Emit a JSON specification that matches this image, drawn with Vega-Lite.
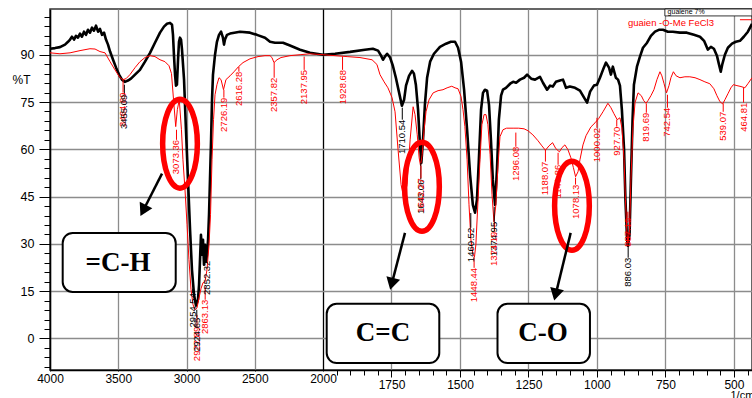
{
  "$schema": "https://vega.github.io/schema/vega-lite/v6.json",
  "width": 702,
  "height": 361,
  "autosize": {"type": "none"},
  "padding": {"left": 50, "top": 9, "right": 0, "bottom": 28},
  "background": "white",
  "config": {
    "view": {"stroke": "#333333", "strokeWidth": 1.5},
    "axis": {"labelFont": "Liberation Sans", "titleFont": "Liberation Sans", "labelColor": "#000", "titleColor": "#000", "domainColor": "#000", "domainWidth": 1.5, "tickColor": "#000", "tickWidth": 1, "labelFontSize": 12.5, "titleFontSize": 12.5, "titleFontWeight": "normal"}
  },
  "datasets": {
    "black": [
      {"w":4000,"t":91.9},{"w":3963,"t":92.1},{"w":3927,"t":92.4},{"w":3890,"t":93.2},{"w":3868,"t":94.1},{"w":3853,"t":94.8},{"w":3839,"t":95.7},{"w":3824,"t":94.8},{"w":3810,"t":96.0},{"w":3795,"t":95.4},{"w":3780,"t":96.7},{"w":3766,"t":95.7},{"w":3751,"t":97.3},{"w":3736,"t":96.3},{"w":3722,"t":97.9},{"w":3707,"t":97.0},{"w":3692,"t":98.6},{"w":3678,"t":97.6},{"w":3663,"t":99.2},{"w":3648,"t":97.3},{"w":3634,"t":98.2},{"w":3619,"t":96.3},{"w":3604,"t":97.0},{"w":3590,"t":94.8},{"w":3575,"t":93.2},{"w":3560,"t":91.0},{"w":3538,"t":88.4},{"w":3516,"t":85.9},{"w":3494,"t":83.7},{"w":3473,"t":82.1},{"w":3451,"t":81.4},{"w":3429,"t":81.8},{"w":3407,"t":82.4},{"w":3377,"t":83.7},{"w":3341,"t":85.2},{"w":3304,"t":87.8},{"w":3267,"t":90.6},{"w":3231,"t":93.8},{"w":3194,"t":97.0},{"w":3165,"t":98.9},{"w":3143,"t":99.8},{"w":3121,"t":100.1},{"w":3106,"t":99.5},{"w":3099,"t":96.3},{"w":3092,"t":90.0},{"w":3084,"t":83.7},{"w":3077,"t":80.2},{"w":3070,"t":80.5},{"w":3062,"t":88.4},{"w":3055,"t":94.1},{"w":3048,"t":95.4},{"w":3040,"t":94.8},{"w":3033,"t":91.6},{"w":3018,"t":82.1},{"w":3004,"t":66.2},{"w":2989,"t":50.3},{"w":2974,"t":34.5},{"w":2960,"t":21.8},{"w":2945,"t":13.9},{"w":2930,"t":10.4},{"w":2916,"t":12.3},{"w":2908,"t":17.0},{"w":2901,"t":25.0},{"w":2894,"t":32.9},{"w":2886,"t":26.6},{"w":2879,"t":31.3},{"w":2872,"t":23.4},{"w":2864,"t":29.7},{"w":2857,"t":24.3},{"w":2850,"t":26.6},{"w":2842,"t":31.3},{"w":2835,"t":39.3},{"w":2828,"t":50.3},{"w":2820,"t":63.0},{"w":2813,"t":75.7},{"w":2806,"t":83.7},{"w":2791,"t":90.0},{"w":2777,"t":94.1},{"w":2762,"t":96.3},{"w":2747,"t":97.3},{"w":2733,"t":95.4},{"w":2725,"t":93.2},{"w":2718,"t":94.8},{"w":2703,"t":96.3},{"w":2681,"t":96.7},{"w":2608,"t":97.3},{"w":2535,"t":97.0},{"w":2484,"t":96.3},{"w":2425,"t":95.4},{"w":2388,"t":94.1},{"w":2352,"t":93.8},{"w":2293,"t":93.8},{"w":2242,"t":92.9},{"w":2168,"t":91.6},{"w":2095,"t":90.6},{"w":2000,"t":90.0},{"w":1956,"t":90.3},{"w":1901,"t":90.9},{"w":1847,"t":91.6},{"w":1818,"t":91.9},{"w":1799,"t":91.3},{"w":1788,"t":89.7},{"w":1781,"t":88.4},{"w":1774,"t":89.4},{"w":1766,"t":90.3},{"w":1755,"t":89.1},{"w":1745,"t":86.5},{"w":1734,"t":82.7},{"w":1723,"t":78.3},{"w":1712,"t":73.8},{"w":1704,"t":75.7},{"w":1697,"t":80.2},{"w":1686,"t":83.3},{"w":1675,"t":84.9},{"w":1668,"t":84.0},{"w":1661,"t":80.5},{"w":1653,"t":72.6},{"w":1646,"t":61.4},{"w":1641,"t":55.7},{"w":1635,"t":63.0},{"w":1628,"t":74.2},{"w":1620,"t":82.7},{"w":1609,"t":87.8},{"w":1595,"t":90.3},{"w":1573,"t":92.5},{"w":1551,"t":93.5},{"w":1533,"t":94.1},{"w":1518,"t":94.1},{"w":1507,"t":92.2},{"w":1496,"t":87.8},{"w":1485,"t":78.9},{"w":1474,"t":66.2},{"w":1463,"t":51.9},{"w":1453,"t":42.4},{"w":1445,"t":39.9},{"w":1438,"t":44.0},{"w":1431,"t":56.7},{"w":1423,"t":72.6},{"w":1416,"t":77.9},{"w":1409,"t":78.9},{"w":1401,"t":78.6},{"w":1394,"t":74.1},{"w":1387,"t":63.0},{"w":1380,"t":50.3},{"w":1372,"t":42.4},{"w":1365,"t":53.5},{"w":1358,"t":69.4},{"w":1350,"t":77.0},{"w":1343,"t":78.9},{"w":1332,"t":79.5},{"w":1317,"t":80.8},{"w":1306,"t":81.4},{"w":1295,"t":81.1},{"w":1281,"t":82.1},{"w":1266,"t":82.7},{"w":1255,"t":83.7},{"w":1240,"t":82.4},{"w":1226,"t":82.1},{"w":1208,"t":83.0},{"w":1197,"t":81.1},{"w":1182,"t":78.9},{"w":1171,"t":80.2},{"w":1161,"t":79.9},{"w":1150,"t":81.4},{"w":1135,"t":81.8},{"w":1124,"t":82.1},{"w":1113,"t":79.5},{"w":1099,"t":79.9},{"w":1080,"t":79.5},{"w":1062,"t":78.6},{"w":1047,"t":76.4},{"w":1036,"t":74.8},{"w":1025,"t":78.3},{"w":1011,"t":80.2},{"w":1000,"t":80.5},{"w":989,"t":82.7},{"w":978,"t":85.2},{"w":967,"t":87.5},{"w":956,"t":85.9},{"w":949,"t":83.7},{"w":942,"t":86.2},{"w":931,"t":82.7},{"w":923,"t":82.1},{"w":916,"t":80.2},{"w":909,"t":72.6},{"w":901,"t":59.9},{"w":896,"t":44.0},{"w":890,"t":31.3},{"w":887,"t":29.4},{"w":881,"t":32.9},{"w":876,"t":50.3},{"w":870,"t":69.4},{"w":865,"t":80.5},{"w":854,"t":86.2},{"w":843,"t":89.4},{"w":832,"t":92.2},{"w":817,"t":93.8},{"w":803,"t":96.0},{"w":788,"t":97.3},{"w":774,"t":97.9},{"w":759,"t":97.9},{"w":741,"t":97.3},{"w":723,"t":97.3},{"w":697,"t":97.0},{"w":672,"t":97.0},{"w":646,"t":96.3},{"w":624,"t":95.7},{"w":609,"t":94.4},{"w":595,"t":91.6},{"w":584,"t":92.5},{"w":573,"t":91.9},{"w":562,"t":89.7},{"w":555,"t":87.1},{"w":548,"t":84.6},{"w":542,"t":87.1},{"w":533,"t":90.0},{"w":522,"t":92.2},{"w":507,"t":93.5},{"w":493,"t":94.1},{"w":478,"t":94.4},{"w":464,"t":95.7},{"w":449,"t":97.3},{"w":434,"t":99.8}
    ],
    "red": [
      {"w":4000,"t":90.6},{"w":3927,"t":90.3},{"w":3853,"t":90.6},{"w":3780,"t":91.3},{"w":3707,"t":91.9},{"w":3670,"t":91.8},{"w":3634,"t":91.0},{"w":3597,"t":90.6},{"w":3560,"t":87.8},{"w":3524,"t":85.2},{"w":3487,"t":82.7},{"w":3465,"t":82.1},{"w":3443,"t":82.4},{"w":3414,"t":83.7},{"w":3377,"t":85.9},{"w":3341,"t":87.8},{"w":3304,"t":89.1},{"w":3267,"t":89.7},{"w":3231,"t":89.4},{"w":3194,"t":88.4},{"w":3158,"t":87.8},{"w":3128,"t":86.5},{"w":3110,"t":84.0},{"w":3095,"t":75.7},{"w":3079,"t":67.2},{"w":3067,"t":72.6},{"w":3053,"t":75.7},{"w":3037,"t":66.2},{"w":3026,"t":56.7},{"w":3011,"t":47.2},{"w":2996,"t":36.1},{"w":2982,"t":25.0},{"w":2967,"t":15.5},{"w":2952,"t":10.7},{"w":2938,"t":9.1},{"w":2923,"t":9.7},{"w":2908,"t":12.9},{"w":2894,"t":15.8},{"w":2879,"t":17.7},{"w":2864,"t":18.0},{"w":2850,"t":21.8},{"w":2835,"t":29.7},{"w":2824,"t":39.3},{"w":2813,"t":56.7},{"w":2802,"t":69.4},{"w":2791,"t":77.3},{"w":2777,"t":80.5},{"w":2762,"t":82.7},{"w":2747,"t":82.1},{"w":2729,"t":78.9},{"w":2711,"t":82.1},{"w":2681,"t":83.3},{"w":2652,"t":84.6},{"w":2619,"t":86.2},{"w":2586,"t":87.5},{"w":2535,"t":88.7},{"w":2476,"t":89.4},{"w":2425,"t":89.7},{"w":2388,"t":89.7},{"w":2374,"t":89.1},{"w":2359,"t":87.5},{"w":2337,"t":88.4},{"w":2308,"t":89.1},{"w":2242,"t":89.7},{"w":2168,"t":90.0},{"w":2095,"t":90.3},{"w":2000,"t":90.0},{"w":1956,"t":89.7},{"w":1912,"t":89.4},{"w":1865,"t":89.1},{"w":1821,"t":88.4},{"w":1803,"t":86.9},{"w":1792,"t":83.7},{"w":1777,"t":81.4},{"w":1763,"t":79.5},{"w":1748,"t":76.4},{"w":1737,"t":71.9},{"w":1726,"t":59.9},{"w":1715,"t":48.8},{"w":1704,"t":44.0},{"w":1693,"t":48.8},{"w":1682,"t":63.0},{"w":1671,"t":73.5},{"w":1664,"t":71.0},{"w":1656,"t":64.6},{"w":1649,"t":57.3},{"w":1644,"t":54.8},{"w":1638,"t":58.3},{"w":1631,"t":66.2},{"w":1624,"t":71.9},{"w":1613,"t":75.7},{"w":1598,"t":77.9},{"w":1580,"t":78.6},{"w":1562,"t":78.9},{"w":1547,"t":79.5},{"w":1530,"t":80.0},{"w":1518,"t":79.5},{"w":1507,"t":79.2},{"w":1496,"t":76.7},{"w":1489,"t":72.6},{"w":1482,"t":67.2},{"w":1474,"t":56.7},{"w":1467,"t":42.4},{"w":1460,"t":31.3},{"w":1453,"t":26.9},{"w":1447,"t":25.9},{"w":1442,"t":29.7},{"w":1434,"t":44.0},{"w":1427,"t":56.7},{"w":1420,"t":67.8},{"w":1412,"t":71.0},{"w":1405,"t":71.0},{"w":1398,"t":67.8},{"w":1390,"t":58.3},{"w":1383,"t":45.6},{"w":1376,"t":37.0},{"w":1369,"t":42.4},{"w":1361,"t":55.1},{"w":1354,"t":64.0},{"w":1343,"t":66.2},{"w":1330,"t":66.7},{"w":1306,"t":66.7},{"w":1286,"t":66.7},{"w":1266,"t":66.5},{"w":1252,"t":65.9},{"w":1234,"t":64.6},{"w":1215,"t":62.7},{"w":1201,"t":61.1},{"w":1188,"t":59.7},{"w":1175,"t":61.1},{"w":1162,"t":62.1},{"w":1150,"t":60.2},{"w":1137,"t":59.2},{"w":1128,"t":60.5},{"w":1117,"t":61.4},{"w":1106,"t":59.9},{"w":1095,"t":57.3},{"w":1086,"t":54.2},{"w":1078,"t":51.3},{"w":1069,"t":52.9},{"w":1062,"t":56.7},{"w":1051,"t":61.4},{"w":1040,"t":64.3},{"w":1022,"t":67.1},{"w":1007,"t":68.4},{"w":994,"t":69.7},{"w":978,"t":71.9},{"w":960,"t":74.6},{"w":949,"t":73.2},{"w":938,"t":71.3},{"w":926,"t":69.4},{"w":916,"t":70.0},{"w":909,"t":66.8},{"w":901,"t":56.7},{"w":896,"t":44.0},{"w":890,"t":32.9},{"w":887,"t":30.4},{"w":881,"t":34.5},{"w":876,"t":50.3},{"w":869,"t":66.2},{"w":861,"t":74.8},{"w":850,"t":77.9},{"w":838,"t":77.0},{"w":829,"t":75.4},{"w":821,"t":74.6},{"w":814,"t":75.4},{"w":803,"t":77.0},{"w":792,"t":78.9},{"w":781,"t":82.1},{"w":770,"t":84.6},{"w":763,"t":83.3},{"w":755,"t":80.8},{"w":746,"t":77.9},{"w":737,"t":80.2},{"w":730,"t":82.7},{"w":721,"t":84.6},{"w":711,"t":83.3},{"w":697,"t":82.7},{"w":679,"t":83.0},{"w":661,"t":83.0},{"w":642,"t":82.7},{"w":624,"t":82.1},{"w":606,"t":81.4},{"w":588,"t":80.8},{"w":573,"t":79.2},{"w":562,"t":77.0},{"w":551,"t":75.1},{"w":541,"t":74.4},{"w":533,"t":75.7},{"w":522,"t":77.6},{"w":511,"t":79.5},{"w":502,"t":80.5},{"w":489,"t":80.2},{"w":474,"t":79.9},{"w":460,"t":79.5},{"w":449,"t":80.8},{"w":434,"t":82.7}
    ],
    "labels": [
      {"s":"B","w":3464.69,"t1":82.1,"t2":78.0,"label":"3464.69"},
      {"s":"A","w":3455.09,"t1":80.5,"t2":77.3,"label":"3455.09"},
      {"s":"B","w":3073.36,"t1":66.2,"t2":63.0,"label":"3073.36"},
      {"s":"B","w":2726.19,"t1":78.9,"t2":76.4,"label":"2726.19"},
      {"s":"B","w":2616.28,"t1":86.2,"t2":84.6,"label":"2616.28"},
      {"s":"B","w":2357.82,"t1":87.5,"t2":82.7,"label":"2357.82"},
      {"s":"B","w":2137.95,"t1":89.4,"t2":85.2,"label":"2137.95"},
      {"s":"B","w":1928.68,"t1":89.4,"t2":85.2,"label":"1928.68"},
      {"s":"A","w":1710.54,"t1":73.2,"t2":69.4,"label":"1710.54"},
      {"s":"A","w":1643.06,"t1":55.7,"t2":50.4,"label":"1643.06"},
      {"s":"B","w":1642.27,"t1":54.8,"t2":50.8,"label":"1642.27"},
      {"s":"A","w":1460.52,"t1":39.8,"t2":35.1,"label":"1460.52"},
      {"s":"B","w":1448.44,"t1":25.9,"t2":22.4,"label":"1448.44"},
      {"s":"A","w":1374.95,"t1":41.8,"t2":37.0,"label":"1374.95"},
      {"s":"B","w":1374.19,"t1":37.0,"t2":33.9,"label":"1374.19"},
      {"s":"B","w":1296.08,"t1":65.3,"t2":60.8,"label":"1296.08"},
      {"s":"B","w":1188.07,"t1":59.9,"t2":56.1,"label":"1188.07"},
      {"s":"B","w":1141.86,"t1":58.9,"t2":55.1,"label":"1141.86"},
      {"s":"B","w":1078.13,"t1":51.0,"t2":48.8,"label":"1078.13"},
      {"s":"B","w":1000.02,"t1":70.0,"t2":66.8,"label":"1000.02"},
      {"s":"B","w":927.70,"t1":69.4,"t2":67.2,"label":"927.70"},
      {"s":"B","w":887.19,"t1":40.2,"t2":38.3,"label":"887.19"},
      {"s":"A","w":886.03,"t1":29.4,"t2":25.6,"label":"886.03"},
      {"s":"B","w":819.69,"t1":74.5,"t2":71.6,"label":"819.69"},
      {"s":"B","w":742.54,"t1":77.3,"t2":73.2,"label":"742.54"},
      {"s":"B","w":539.07,"t1":74.5,"t2":71.9,"label":"539.07"},
      {"s":"B","w":464.81,"t1":79.5,"t2":74.8,"label":"464.81"},
      {"s":"A","w":2954.54,"t1":15.8,"t2":14.4,"label":"2954.54"},
      {"s":"B","w":2922.89,"t1":7.5,"t2":3.7,"label":"2922.89"},
      {"s":"A","w":2924.65,"t1":9.1,"t2":6.6,"label":"2924.65"},
      {"s":"A","w":2852.32,"t1":26.5,"t2":24.7,"label":"2852.32"},
      {"s":"B","w":2863.13,"t1":16.4,"t2":12.3,"label":"2863.13"}
    ],
    "ellipses": [
      {"w":3047.6,"t":61.8},
      {"w":1638.7,"t":48.1},
      {"w":1091.2,"t":42.1}
    ],
    "arrows": [
      {"id":"a1","w1":3179.5,"t1":52.3,"w2":3317,"t2":40.6},
      {"id":"a2","w1":1700.7,"t1":33.5,"w2":1749.1,"t2":17.3},
      {"id":"a3","w1":1095.9,"t1":33.5,"w2":1150.8,"t2":13.9}
    ],
    "boxes": [
      {"label":"=C-H","w1":3907,"w2":3079,"t1":33.46,"t2":14.74,"tw":3502,"tt":24.0},
      {"label":"C=C","w1":1986.5,"w2":1575.5,"t1":11.0,"t2":-7.8,"tw":1781,"tt":1.6},
      {"label":"C-O","w1":1363,"w2":1025.5,"t1":11.0,"t2":-7.8,"tw":1197,"tt":1.6}
    ],
    "legend": [
      {"w1":752,"w2":434,"t1":104.5,"t2":102.3,"tw":742,"tt":103.4,"label":"guaiene 7%","lw1":478,"lw2":434,"lt":101.1,"rw":887,"rt":100.2,"rlabel":"guaien -O-Me FeCl3"}
    ]
  },
  "layer": [
    {
      "data": {"name": "black"},
      "mark": {"type": "line", "color": "#000000", "strokeWidth": 2.6, "strokeJoin": "round"},
      "encoding": {
        "x": {
          "field": "w", "type": "quantitative",
          "scale": {"type": "linear", "domain": [4000, 2000, 434], "range": [0, 273, 702], "nice": false, "zero": false},
          "axis": {
            "title": "1/cm", "titleX": 680, "titleY": 25, "titleAlign": "left", "titleBaseline": "middle", "titleFontSize": 11,
            "format": "d",
            "tickCount": 500,
            "labelFontSize": 12,
            "values": [4000,3900,3800,3700,3600,3500,3400,3300,3200,3100,3000,2900,2800,2700,2600,2500,2400,2300,2200,2100,2000,1950,1900,1850,1800,1750,1700,1650,1600,1550,1500,1450,1400,1350,1300,1250,1200,1150,1100,1050,1000,950,900,850,800,750,700,650,600,550,500,450],
            "labelExpr": "(datum.value >= 2000 ? datum.value % 500 === 0 : datum.value % 250 === 0) ? datum.label : ''",
            "labelOverlap": false, "labelFlush": false, "labelPadding": 2,
            "tickSize": {"condition": {"test": "datum.value >= 2000 ? datum.value % 500 === 0 : datum.value % 250 === 0", "value": 7}, "value": 5},
            "grid": true,
            "gridWidth": 1.3,
            "gridColor": {"condition": {"test": "datum.value === 2000", "value": "#000000"}, "value": "#8c8c8c"},
            "gridOpacity": {"condition": {"test": "datum.value >= 2000 ? datum.value % 500 === 0 : datum.value % 250 === 0", "value": 1}, "value": 0}
          }
        },
        "y": {
          "field": "t", "type": "quantitative",
          "scale": {"domain": [-10, 104.5], "nice": false, "zero": false},
          "axis": {
            "title": "%T", "titleAngle": 0, "titleX": -38, "titleY": 70, "titleAlign": "left", "titleBaseline": "middle", "titleFontSize": 12,
            "format": "d",
            "tickCount": 500,
            "values": [-9,-6,-3,0,3,6,9,12,15,18,21,24,27,30,33,36,39,42,45,48,51,54,57,60,63,66,69,72,75,78,81,84,87,90,93,96,99,102],
            "labelExpr": "datum.value % 15 === 0 ? datum.label : ''",
            "labelOverlap": false, "labelFlush": false, "labelPadding": 5,
            "tickSize": {"condition": {"test": "datum.value % 15 === 0", "value": 11}, "value": 6},
            "grid": true,
            "gridWidth": 1.3,
            "gridColor": "#8c8c8c",
            "gridOpacity": {"condition": {"test": "datum.value % 15 === 0", "value": 1}, "value": 0}
          }
        }
      }
    },
    {
      "data": {"name": "red"},
      "mark": {"type": "line", "color": "#ff0000", "strokeWidth": 1},
      "encoding": {
        "x": {"field": "w", "type": "quantitative"},
        "y": {"field": "t", "type": "quantitative"}
      }
    },
    {
      "data": {"name": "labels"},
      "mark": {"type": "rule", "strokeWidth": 1},
      "encoding": {
        "x": {"field": "w", "type": "quantitative"},
        "y": {"field": "t1", "type": "quantitative"},
        "y2": {"field": "t2"},
        "color": {"field": "s", "type": "nominal", "scale": {"domain": ["A", "B"], "range": ["#000000", "#ff0000"]}, "legend": null}
      }
    },
    {
      "data": {"name": "labels"},
      "mark": {"type": "text", "angle": 270, "align": "right", "baseline": "middle", "font": "Liberation Sans", "fontSize": 9.5},
      "encoding": {
        "x": {"field": "w", "type": "quantitative"},
        "y": {"field": "t2", "type": "quantitative"},
        "text": {"field": "label"},
        "color": {"field": "s", "type": "nominal", "scale": {"domain": ["A", "B"], "range": ["#000000", "#ff0000"]}, "legend": null}
      }
    },
    {
      "data": {"name": "ellipses"},
      "mark": {"type": "point", "shape": "M0,-1A0.39,1 0 1,1 0,1A0.39,1 0 1,1 0,-1Z", "size": 7921, "filled": false, "stroke": "#ff0000", "strokeWidth": 5.5, "opacity": 1},
      "encoding": {
        "x": {"field": "w", "type": "quantitative"},
        "y": {"field": "t", "type": "quantitative"}
      }
    },
    {
      "data": {"name": "arrows"},
      "mark": {"type": "rule", "color": "#000000", "strokeWidth": 2.5},
      "encoding": {
        "x": {"field": "w1", "type": "quantitative"},
        "y": {"field": "t1", "type": "quantitative"},
        "x2": {"field": "w2"},
        "y2": {"field": "t2"}
      }
    },
    {
      "data": {"name": "arrows"},
      "transform": [{"filter": "datum.id === 'a1'"}],
      "mark": {"type": "point", "shape": "triangle-down", "filled": true, "color": "#000000", "opacity": 1, "size": 200, "angle": 27},
      "encoding": {
        "x": {"field": "w2", "type": "quantitative"},
        "y": {"field": "t2", "type": "quantitative"}
      }
    },
    {
      "data": {"name": "arrows"},
      "transform": [{"filter": "datum.id === 'a2'"}],
      "mark": {"type": "point", "shape": "triangle-down", "filled": true, "color": "#000000", "opacity": 1, "size": 200, "angle": 14.5},
      "encoding": {
        "x": {"field": "w2", "type": "quantitative"},
        "y": {"field": "t2", "type": "quantitative"}
      }
    },
    {
      "data": {"name": "arrows"},
      "transform": [{"filter": "datum.id === 'a3'"}],
      "mark": {"type": "point", "shape": "triangle-down", "filled": true, "color": "#000000", "opacity": 1, "size": 200, "angle": 13.7},
      "encoding": {
        "x": {"field": "w2", "type": "quantitative"},
        "y": {"field": "t2", "type": "quantitative"}
      }
    },
    {
      "data": {"name": "boxes"},
      "mark": {"type": "rect", "fill": "#ffffff", "stroke": "#000000", "strokeWidth": 2, "cornerRadius": 10},
      "encoding": {
        "x": {"field": "w1", "type": "quantitative"},
        "x2": {"field": "w2"},
        "y": {"field": "t1", "type": "quantitative"},
        "y2": {"field": "t2"}
      }
    },
    {
      "data": {"name": "boxes"},
      "mark": {"type": "text", "font": "Liberation Serif", "fontWeight": "bold", "fontSize": 27, "align": "center", "baseline": "middle", "color": "#000000"},
      "encoding": {
        "x": {"field": "tw", "type": "quantitative"},
        "y": {"field": "tt", "type": "quantitative"},
        "text": {"field": "label"}
      }
    },
    {
      "data": {"name": "legend"},
      "mark": {"type": "rect", "fill": "#ffffff", "stroke": "#000000", "strokeWidth": 0.8},
      "encoding": {
        "x": {"field": "w1", "type": "quantitative"},
        "x2": {"field": "w2"},
        "y": {"field": "t1", "type": "quantitative"},
        "y2": {"field": "t2"}
      }
    },
    {
      "data": {"name": "legend"},
      "mark": {"type": "text", "font": "Liberation Sans", "fontSize": 7, "align": "left", "baseline": "middle", "color": "#000000"},
      "encoding": {
        "x": {"field": "tw", "type": "quantitative"},
        "y": {"field": "tt", "type": "quantitative"},
        "text": {"field": "label"}
      }
    },
    {
      "data": {"name": "legend"},
      "mark": {"type": "rule", "color": "#ff0000", "strokeWidth": 1},
      "encoding": {
        "x": {"field": "lw1", "type": "quantitative"},
        "x2": {"field": "lw2"},
        "y": {"field": "lt", "type": "quantitative"}
      }
    },
    {
      "data": {"name": "legend"},
      "mark": {"type": "text", "font": "Liberation Sans", "fontSize": 9.5, "align": "left", "baseline": "middle", "color": "#ff0000"},
      "encoding": {
        "x": {"field": "rw", "type": "quantitative"},
        "y": {"field": "rt", "type": "quantitative"},
        "text": {"field": "rlabel"}
      }
    }
  ]
}
